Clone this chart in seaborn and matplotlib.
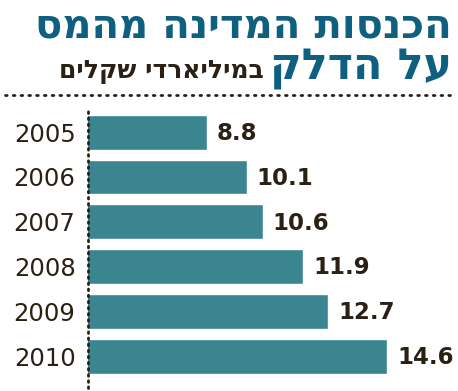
import matplotlib.pyplot as plt
from matplotlib.lines import Line2D
import seaborn as sns
import pandas as pd

# data
years = ['2005', '2006', '2007', '2008', '2009', '2010']
revenue = [8.8, 10.1, 10.6, 11.9, 12.7, 14.6]

title_line1 = 'הכנסות המדינה מהמס'
title_line2 = 'על הדלק'
subtitle = 'במיליארדי שקלים'

bar_color = '#3a8590'
title_color = '#0f5f80'
text_color = '#2a2013'

df = pd.DataFrame({'year': years, 'revenue': revenue})

sns.set_theme(style='white')
plt.rcParams['font.family'] = ['DejaVu Sans']

fig = plt.figure(figsize=(4.58, 3.91), dpi=100)
ax = fig.add_axes([88 / 458, 3 / 391, 370 / 458, 280 / 391])

sns.barplot(data=df, x='revenue', y='year', orient='h', color=bar_color,
            saturation=1, width=0.78, ax=ax)

ax.set_xlim(5, 16.86)
ax.set_ylim(5.71, -0.54)
ax.set_xlabel('')
ax.set_ylabel('')
ax.set_xticks([])
for s in ax.spines.values():
    s.set_visible(False)
ax.tick_params(axis='y', length=0, pad=9, labelsize=17.5, labelcolor=text_color)

# value labels
for i, v in enumerate(revenue):
    ax.annotate(f'{v:.1f}', (v, i), xytext=(7, -1), textcoords='offset points',
                ha='left', va='center', fontsize=16.5, fontweight='bold',
                color=text_color)

# dotted axis line
ax.axvline(5, color=text_color, lw=2, ls=(0, (0.6, 1.6)), dash_capstyle='round',
           clip_on=False)

# dotted separator under the title
fig.add_artist(Line2D([5 / 458, 455 / 458], [1 - 95 / 391, 1 - 95 / 391],
                      transform=fig.transFigure, color=text_color, lw=2,
                      ls=(0, (0.6, 2.2)), dash_capstyle='round'))

# titles (reversed for right-to-left display)
fig.text(452 / 458, 1 - 27 / 391, title_line1[::-1], ha='right', va='center',
         fontsize=29, fontweight='bold', color=title_color)
fig.text(452 / 458, 1 - 69 / 391, title_line2[::-1], ha='right', va='center',
         fontsize=31, fontweight='bold', color=title_color)
fig.text(264 / 458, 1 - 72 / 391, subtitle[::-1], ha='right', va='center',
         fontsize=18, fontweight='bold', color=text_color)

fig.savefig('out.png', dpi=100)
